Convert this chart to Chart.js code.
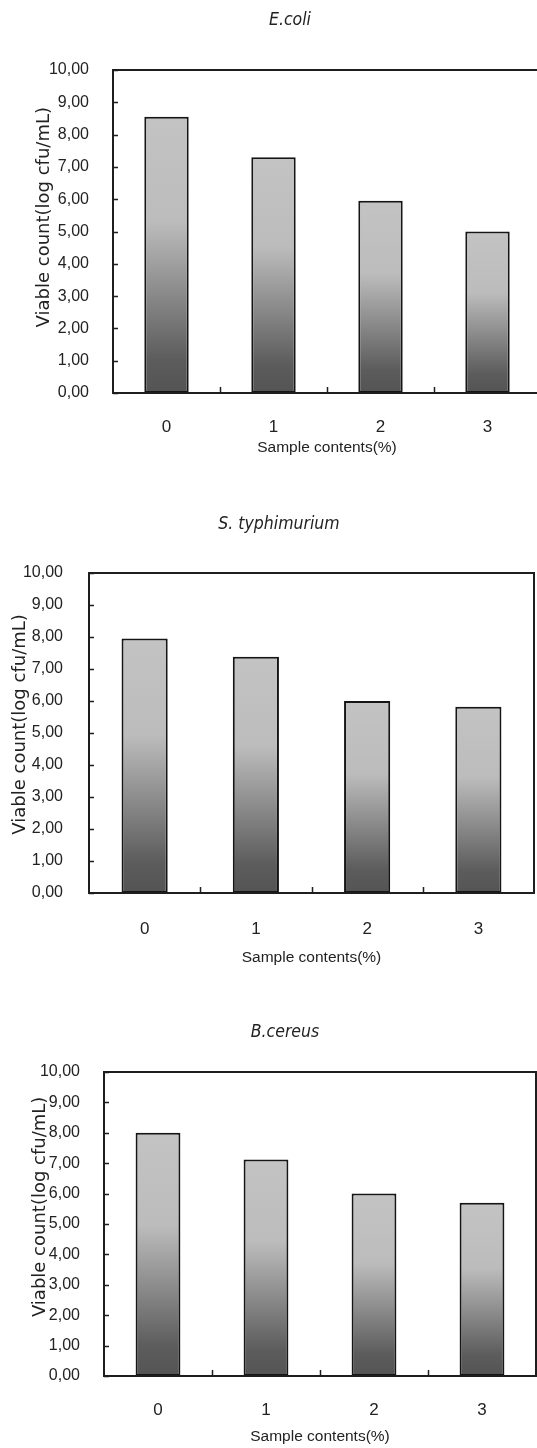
<!DOCTYPE html>
<html>
<head>
<meta charset="utf-8">
<script src="https://cdn.jsdelivr.net/npm/chart.js@4.4.1/dist/chart.umd.min.js"></script>
<style>
  html, body { margin: 0; padding: 0; background: #fff; overflow: hidden; }
  body { width: 537px; height: 1448px; position: relative; }
  canvas { position: absolute; left: 0; }
</style>
</head>
<body>
<canvas id="ecoliChart"></canvas>
<canvas id="typhiChart"></canvas>
<canvas id="cereusChart"></canvas>
<script>
// categories on the x axis (sample contents, %)
const categories = ['0', '1', '2', '3'];

// viable counts (log cfu/mL)
const ecoliCounts  = [8.55, 7.30, 5.95, 5.00];
const typhiCounts  = [7.95, 7.38, 6.00, 5.82];
const cereusCounts = [8.00, 7.12, 6.00, 5.70];

// y axis range and step
const yMin = 0;
const yMax = 10;
const yStep = 1;

const yTitle = 'Viable count(log cfu/mL)';
const xTitle = 'Sample contents(%)';

const SANS = '"Liberation Sans", Arial, sans-serif';
const COND = '"DejaVu Sans Condensed", "Liberation Sans", sans-serif';
const WIDE = '"DejaVu Sans", "Liberation Sans", sans-serif';
const CANVAS_W = 560;

// gray gradient per bar, light at the top and dark at the base
function barGradient(context) {
  const chart = context.chart;
  if (!chart.chartArea || context.raw === undefined) return '#999';
  const y = chart.scales.y;
  const top = y.getPixelForValue(context.raw);
  const bot = y.getPixelForValue(0);
  const g = chart.ctx.createLinearGradient(0, top, 0, bot);
  g.addColorStop(0, '#c3c3c3');
  g.addColorStop(0.38, '#bcbcbc');
  g.addColorStop(0.88, '#5c5c5c');
  g.addColorStop(1, '#545454');
  return g;
}

// plot frame + little tick marks pointing inwards
const framePlugin = {
  id: 'frame',
  afterDraw(chart) {
    const { ctx, chartArea: a, scales } = chart;
    ctx.save();
    ctx.strokeStyle = '#1e1e1e';
    ctx.lineWidth = 2;
    ctx.strokeRect(a.left, a.top, a.right - a.left, a.bottom - a.top);

    ctx.lineWidth = 1.5;
    ctx.beginPath();
    scales.y.ticks.forEach(t => {
      const py = Math.round(scales.y.getPixelForValue(t.value)) + 0.5;
      ctx.moveTo(a.left, py);
      ctx.lineTo(a.left + 5, py);
    });
    for (let i = 1; i < categories.length; i++) {
      const px = Math.round((scales.x.getPixelForValue(i - 1) + scales.x.getPixelForValue(i)) / 2) + 0.5;
      ctx.moveTo(px, a.bottom);
      ctx.lineTo(px, a.bottom - 6);
    }
    ctx.stroke();
    ctx.restore();
  }
};

function makePanel(id, title, values, lay) {
  const canvas = document.getElementById(id);
  canvas.width = CANVAS_W;
  canvas.height = lay.height;
  canvas.style.top = lay.top + 'px';

  // everything below is in canvas coordinates
  const titleSize = 17.5;
  const tickSize = 16;
  const xLabelSize = 17;
  const xTitleSize = 15.5;
  const yTitleSize = 18;
  const plotTop = lay.plotTop - lay.top;
  const plotBottom = lay.plotBottom - lay.top;
  const titleY = lay.titleY - lay.top;
  const xScaleBottom = lay.xTitleY - lay.top + xTitleSize / 2;
  // left padding moves the centre of the chart title
  const padLeft = 2 * lay.titleX - lay.plotRight;

  return new Chart(canvas.getContext('2d'), {
    type: 'bar',
    data: {
      labels: categories,
      datasets: [{
        data: values,
        backgroundColor: barGradient,
        borderColor: '#151515',
        borderWidth: 2,
        borderSkipped: false,
        barPercentage: 1,
        categoryPercentage: 0.415
      }]
    },
    options: {
      responsive: false,
      animation: false,
      devicePixelRatio: 1,
      layout: {
        padding: {
          top: 0,
          left: padLeft,
          right: CANVAS_W - lay.plotRight,
          bottom: lay.height - xScaleBottom
        }
      },
      plugins: {
        legend: { display: false },
        tooltip: { enabled: false },
        title: {
          display: true,
          text: title,
          color: '#222',
          font: { family: COND, size: titleSize, style: 'italic', weight: 'normal', lineHeight: 1 },
          padding: { top: titleY - titleSize / 2, bottom: plotTop - titleY - titleSize / 2 }
        }
      },
      scales: {
        x: {
          grid: { display: false, drawTicks: false },
          border: { display: false },
          ticks: {
            color: '#222',
            font: { family: SANS, size: xLabelSize, lineHeight: 1 },
            padding: lay.labelY - lay.plotBottom - xLabelSize / 2
          },
          title: {
            display: true,
            text: xTitle,
            color: '#222',
            font: { family: SANS, size: xTitleSize, lineHeight: 1 },
            padding: 0
          },
          afterFit(scale) { scale.height = xScaleBottom - plotBottom; }
        },
        y: {
          min: yMin,
          max: yMax,
          grid: { display: false, drawTicks: false },
          border: { display: false },
          ticks: {
            stepSize: yStep,
            color: '#222',
            font: { family: SANS, size: tickSize, lineHeight: 1 },
            padding: lay.plotLeft - lay.tickRight,
            callback: v => v.toFixed(2).replace('.', ',')
          },
          title: {
            display: true,
            // leading blanks lift the rotated text a little above the middle
            text: ' '.repeat(lay.yTitleLift) + yTitle,
            color: '#222',
            font: { family: WIDE, size: yTitleSize, lineHeight: 1 },
            padding: { top: lay.yTitleX - padLeft - yTitleSize / 2, bottom: 0 }
          },
          afterFit(scale) { scale.width = lay.plotLeft - padLeft; }
        }
      }
    },
    plugins: [framePlugin]
  });
}

makePanel('ecoliChart', 'E.coli', ecoliCounts, {
  top: 0, height: 480, titleX: 290,
  titleY: 20, plotTop: 70, plotBottom: 393, plotLeft: 113, plotRight: 541,
  tickRight: 89, labelY: 427, xTitleY: 448, yTitleX: 44, yTitleLift: 5
});

makePanel('typhiChart', 'S. typhimurium', typhiCounts, {
  top: 480, height: 490, titleX: 279,
  titleY: 524, plotTop: 573, plotBottom: 893, plotLeft: 89, plotRight: 534,
  tickRight: 63, labelY: 929, xTitleY: 958, yTitleX: 20, yTitleLift: 3
});

makePanel('cereusChart', 'B.cereus', cereusCounts, {
  top: 970, height: 478, titleX: 285,
  titleY: 1032, plotTop: 1072, plotBottom: 1376, plotLeft: 104, plotRight: 536,
  tickRight: 80, labelY: 1410, xTitleY: 1437, yTitleX: 40, yTitleLift: 6
});
</script>
</body>
</html>
